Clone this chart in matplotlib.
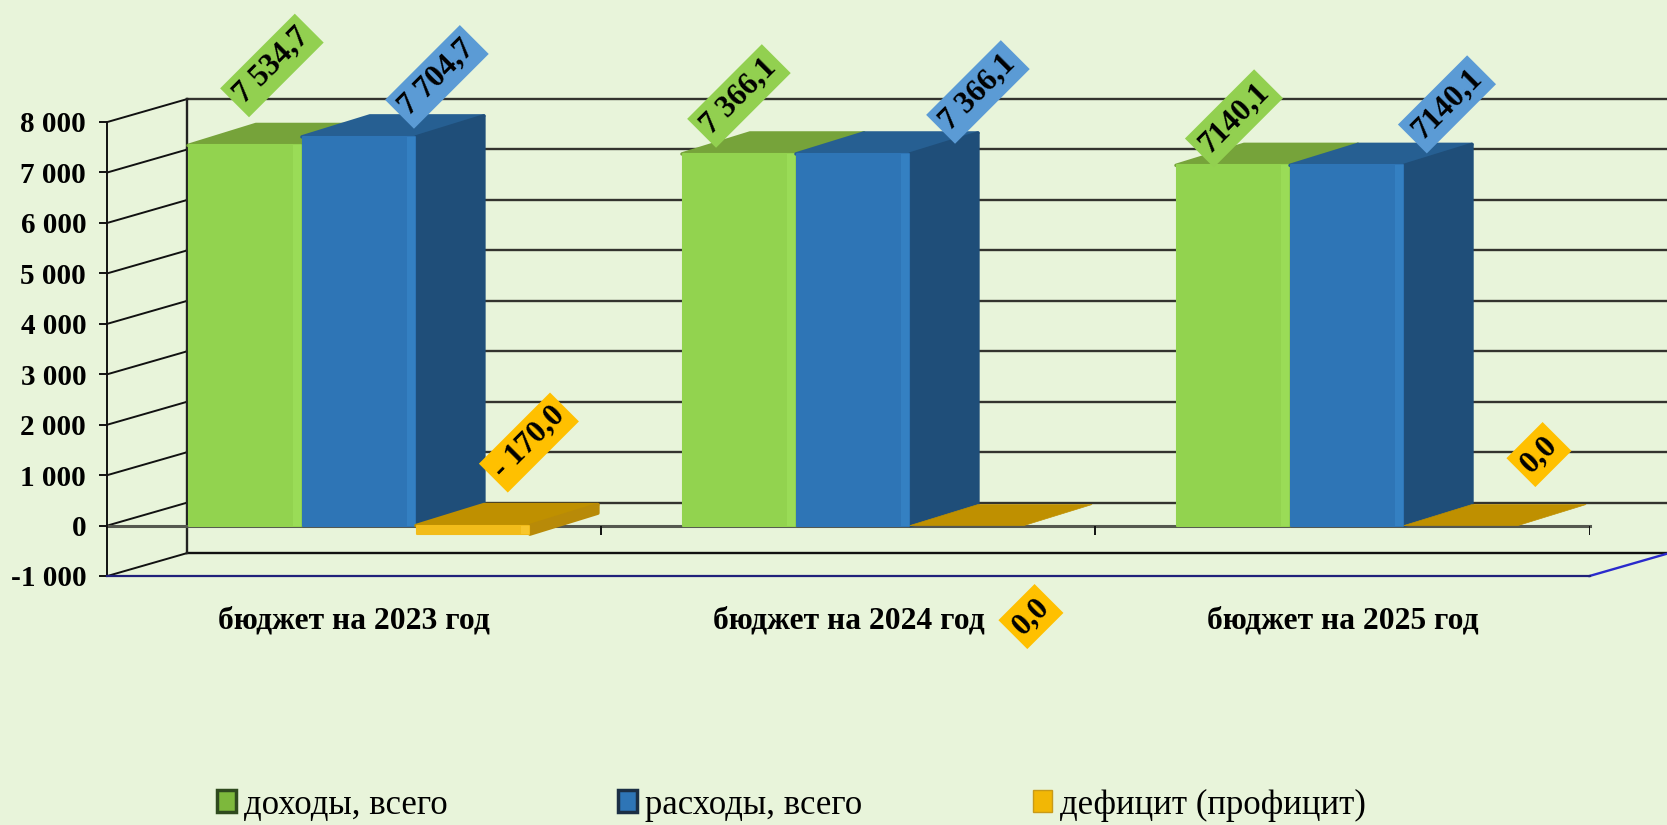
import matplotlib
matplotlib.use("Agg")
import matplotlib.pyplot as plt
from matplotlib.patches import Patch

categories = ["бюджет на 2023 год", "бюджет на 2024 год", "бюджет на 2025 год"]
series_names = ["доходы, всего", "расходы, всего", "дефицит (профицит)"]
income = [7534.7, 7366.1, 7140.1]
expense = [7704.7, 7366.1, 7140.1]
deficit = [-170.0, 0.0, 0.0]
income_labels = ["7 534,7", "7 366,1", "7140,1"]
expense_labels = ["7 704,7", "7 366,1", "7140,1"]
deficit_labels = ["- 170,0", "0,0", "0,0"]
y_ticks = [-1000, 0, 1000, 2000, 3000, 4000, 5000, 6000, 7000, 8000]
y_tick_labels = ["-1 000", "0", "1 000", "2 000", "3 000", "4 000", "5 000", "6 000", "7 000", "8 000"]

# label offsets from the bar's front-top centre, in pixels (x right, y up)
income_off = [(27, 80), (0, 58), (1, 47)]
expense_off = [(78, 60), (125, 62), (100, 61)]
deficit_off = [(56, 83), (64, -91), (78, 71)]

BG = "#E8F4DA"
W_PX, H_PX = 1667, 825
LEFT, RIGHT, TOP, BOTTOM = 107.4, 1589.5, 122.0, 576.0
fig = plt.figure(figsize=(W_PX / 100, H_PX / 100), dpi=100, facecolor=BG)
ax = fig.add_axes([LEFT / W_PX, 1 - BOTTOM / H_PX, (RIGHT - LEFT) / W_PX, (BOTTOM - TOP) / H_PX])
ax.patch.set_visible(False)
ax.set_xlim(0, 3)
ax.set_ylim(-1000, 8000)

px_x = 3 / (RIGHT - LEFT)
px_y = 9000 / (BOTTOM - TOP)
back_dx, back_dy = 80 * px_x, 23 * px_y
bar_dx, bar_dy = 68 * px_x, 21 * px_y
bar_w = 114 * px_x
start = 80.5 * px_x

serif = "Liberation Serif"
grid_c = "#33332e"

# walls and gridlines
for v in y_ticks:
    if v > -1000:
        ax.plot([back_dx, 3 + back_dx], [v + back_dy] * 2, color=grid_c, lw=1.7, clip_on=False, zorder=1)
    ax.plot([0, back_dx], [v, v + back_dy], color="#111111", lw=1.4, clip_on=False, zorder=1)
ax.plot([back_dx, 3 + back_dx], [-1000 + back_dy] * 2, color="#111111", lw=1.7, clip_on=False, zorder=1)
ax.plot([back_dx, back_dx], [-1000 + back_dy, 8000 + back_dy], color="#222222", lw=1.7, clip_on=False, zorder=1)
ax.plot([3, 3 + back_dx], [-1000, -1000 + back_dy], color="#2a2acc", lw=1.7, clip_on=False, zorder=1)
ax.plot([0, 3], [0, 0], color="#55584f", lw=2.2, clip_on=False, zorder=1)
ax.vlines([1, 2, 3], -190, 0, color="#111111", lw=1.4, zorder=1)

styles = [
    dict(front="#92D34F", hi="#9ADC57", side="#6F9C36", top="#76A33A"),
    dict(front="#2E75B6", hi="#3480C2", side="#1F4E79", top="#265F92"),
    dict(front="#F2BC1A", hi="#F8C62C", side="#B88A08", top="#BF9000"),
]
all_values = [income, expense, deficit]
all_labels = [income_labels, expense_labels, deficit_labels]
all_offs = [income_off, expense_off, deficit_off]
label_cols = ["#92D050", "#5B9BD5", "#FFC000"]

z = 2
for g in range(3):
    for s in range(3):
        v = all_values[s][g]
        st = styles[s]
        x0 = g + start + s * bar_w
        x1 = x0 + bar_w
        hi_v, lo_v = max(v, 0), min(v, 0)
        ax.fill([x0, x1, x1 + bar_dx, x0 + bar_dx],
                [hi_v, hi_v, hi_v + bar_dy, hi_v + bar_dy],
                color=st["top"], lw=2.5 if v != 0 else 0.5, joinstyle="round", clip_on=False, zorder=z)
        if v != 0:
            ax.fill([x1, x1 + bar_dx, x1 + bar_dx, x1],
                    [hi_v, hi_v + bar_dy, lo_v + bar_dy, lo_v],
                    color=st["side"], lw=2.5, joinstyle="round", clip_on=False, zorder=z + 0.1)
            ax.bar(x0 + 1 * px_x, v, width=bar_w - 2 * px_x, align="edge", color=st["front"],
                   edgecolor=st["front"], lw=1.5, joinstyle="round", clip_on=False, zorder=z + 0.2)
            ax.bar(x1 - 9 * px_x, v, width=8 * px_x, align="edge", color=st["hi"], lw=0,
                   clip_on=False, zorder=z + 0.3)
        z += 1

for s in range(3):
    for g in range(3):
        v = all_values[s][g]
        xc = g + start + (s + 0.5) * bar_w
        ax.annotate(all_labels[s][g], xy=(xc, max(v, 0)), xytext=all_offs[s][g],
                    textcoords="offset pixels", rotation=45, rotation_mode="anchor",
                    ha="center", va="center", family=serif, fontweight="bold", fontsize=22.5,
                    color="black", zorder=40, annotation_clip=False,
                    bbox=dict(boxstyle="square,pad=0.19", fc=label_cols[s], ec="none"))

# axes furniture
for side in ["top", "right"]:
    ax.spines[side].set_visible(False)
ax.spines["left"].set_color("#111111")
ax.spines["left"].set_linewidth(1.4)
ax.spines["bottom"].set_color("#20207a")
ax.spines["bottom"].set_linewidth(1.6)
ax.set_yticks(y_ticks)
ax.set_yticklabels(y_tick_labels, family=serif, fontweight="bold", fontsize=21)
ax.tick_params(axis="y", length=5.8, width=1.4, color="#111111", pad=9.5)
ax.set_xticks([0.5, 1.5, 2.5])
ax.set_xticklabels(categories, family=serif, fontweight="bold", fontsize=22.7)
ax.tick_params(axis="x", length=0, pad=22)

handles = [
    Patch(facecolor="#7DB83C", edgecolor="#2f4a1e", lw=2.5, label=series_names[0]),
    Patch(facecolor="#2E75B6", edgecolor="#1b2f45", lw=2.5, label=series_names[1]),
    Patch(facecolor="#F2B705", edgecolor="#C89A18", lw=1.0, label=series_names[2]),
]
fig.legend(handles=handles, ncol=3, loc="center left", bbox_to_anchor=(217 / W_PX, 1 - 805 / H_PX),
           frameon=False, borderpad=0, borderaxespad=0, handlelength=0.55, handleheight=0.6,
           handletextpad=0.22, columnspacing=4.92, labelspacing=0,
           prop=dict(family=serif, size=25))

fig.savefig("out.png", dpi=100, facecolor=BG)
